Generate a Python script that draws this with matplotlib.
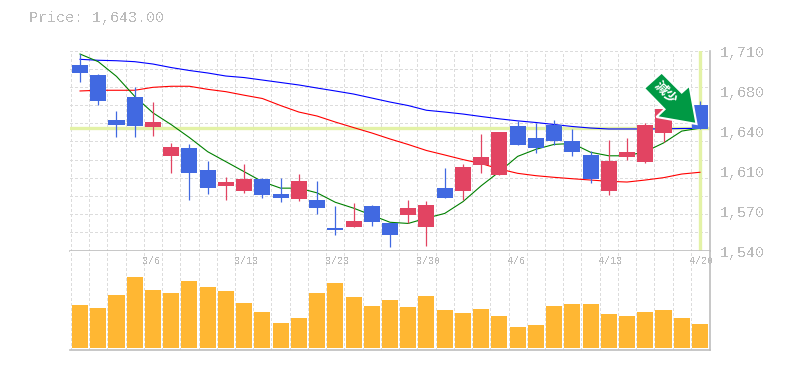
import numpy as np
import matplotlib
matplotlib.use('Agg')
import matplotlib.pyplot as plt
from matplotlib.patches import Polygon
from matplotlib.transforms import IdentityTransform

W, H = 785, 370

# daily OHLC, oldest first
opens = [1698, 1689, 1651, 1670.5, 1645, 1620.6, 1627, 1608.4, 1594.8, 1590.8, 1600.8, 1588,
         1584, 1583, 1559, 1560, 1577.8, 1563.4, 1570.2, 1560, 1593, 1590.8, 1612.7, 1604.2,
         1645.8, 1635.6, 1646.7, 1633, 1621.2, 1590.8, 1619.5, 1615.2, 1640, 1661, 1663.7]
closes = [1691, 1667, 1646.7, 1646, 1649, 1628, 1606, 1593.4, 1598.2, 1600.8, 1587.4, 1584.9,
          1599, 1576.4, 1557.7, 1565, 1564.5, 1553.2, 1576, 1578.7, 1584.6, 1611, 1619.5, 1640.7,
          1630, 1627.4, 1633.3, 1624, 1601, 1616, 1623.7, 1646.7, 1660, 1652.6, 1643]
highs = [1707, 1690, 1658.6, 1678.7, 1666, 1631.4, 1630.5, 1616, 1602.5, 1613.5, 1601.6, 1601.6,
         1605, 1599, 1577.8, 1580.4, 1578.7, 1563.4, 1582.9, 1582, 1610, 1613.5, 1639, 1640.7,
         1650, 1648.4, 1651, 1643.3, 1624.6, 1634, 1635.6, 1648.4, 1660, 1663.7, 1667]
lows = [1683.5, 1664, 1636.7, 1636.7, 1637.6, 1606, 1583, 1588.3, 1583, 1589.1, 1584.9, 1581.5,
        1582.3, 1571.3, 1553.4, 1560, 1561, 1543.2, 1563.4, 1544, 1584.6, 1583, 1606, 1604.2,
        1630, 1623.1, 1630, 1620.6, 1597.6, 1587.4, 1617, 1614.4, 1632.5, 1651, 1643]

ma_short = [1707, 1700.5, 1688, 1671, 1657, 1647, 1636, 1624, 1615.5, 1607, 1598.5, 1593,
            1593, 1589, 1581, 1576, 1570, 1564, 1563, 1567.5, 1571.5, 1581.5, 1595, 1607,
            1620, 1626, 1630.2, 1631, 1623.5, 1620.5, 1620.5, 1624, 1631.4, 1641.5, 1644]
ma_mid = [1675.6, 1676.2, 1676.2, 1676.2, 1678.7, 1679.6, 1679.6, 1677, 1675, 1672, 1669.2, 1663.2,
          1657.7, 1654.3, 1649.2, 1644.5, 1639.9, 1634.8, 1630.1, 1625, 1621.2, 1617.3, 1613.9, 1609.3,
          1605.6, 1603.6, 1602.2, 1601, 1599.9, 1598.8, 1598.2, 1599.9, 1601.9, 1605, 1606.5]
ma_long = [1702.5, 1701.7, 1701.3, 1700.5, 1698.5, 1695.5, 1693, 1690.9, 1688.3, 1687, 1684.9, 1682.8,
           1680.7, 1678.1, 1675.6, 1673, 1669.6, 1666.2, 1663.2, 1659.2, 1657.7, 1656, 1653.9, 1651.9,
           1650.2, 1648.8, 1647.1, 1645.4, 1644.1, 1643.3, 1643.3, 1643.3, 1643.4, 1643.7, 1643.8]

volumes = [43, 40, 53, 71, 58, 55, 67, 61, 57, 45, 36, 25, 30, 55, 65, 51, 42, 48,
           41, 52, 38, 35, 39, 32, 21, 23, 42, 44, 44, 34, 32, 36, 38, 30, 24]

date_idx = [4, 9, 14, 19, 24, 29, 34]
date_labels = ['3/6', '3/13', '3/23', '3/30', '4/6', '4/13', '4/20']

price_ticks = [1540, 1574, 1608, 1642, 1676, 1710]
price_labels = ['1,540', '1,570', '1,610', '1,640', '1,680', '1,710']

cross_x = 34
cross_y = 1643.8

# badge outline in pixels from the top left of the image
arrow_px = [(661.7, 72.5), (681.7, 92.5), (689.5, 85.5), (696.5, 124),
            (656.5, 117), (664.5, 109.3), (644, 88.3)]

UP = '#e24462'
DOWN = '#4169e1'
GRID = '#dcdcdc'
AXIS = '#bdbdbd'
TEXT = '#bbbbbb'
CROSS = '#e3f2a6'
VOL = '#ffb733'

plt.rcParams['font.family'] = ['Liberation Mono', 'DejaVu Sans Mono']
plt.rcParams['text.antialiased'] = False

fig = plt.figure(figsize=(W / 100, H / 100), dpi=100)
ax = fig.add_axes([70 / W, 1 - 250.5 / H, 640 / W, 200 / H])
vax = fig.add_axes([70 / W, 1 - 350 / H, 640 / W, 99.5 / H])

xs = np.arange(len(opens))
for a in (ax, vax):
  a.set_xlim(-0.55, 34.55)
  a.set_xticks(xs - 0.5)
  a.tick_params(length=0, labelbottom=False, labelleft=False)
  a.grid(axis='x', color=GRID, lw=1, ls=(0, (2, 2)), antialiased=False)
  a.set_axisbelow(True)
  for side in ('left', 'top'):
    a.spines[side].set_visible(False)
  for side in ('right', 'bottom'):
    a.spines[side].set_color(AXIS)
    a.spines[side].set_linewidth(1.2)

ax.set_ylim(1540, 1710)
ax.set_yticks(np.linspace(1540, 1710, 12))
ax.grid(axis='y', color=GRID, lw=1, ls=(0, (2, 2)), antialiased=False)

ax.axhline(cross_y, color=CROSS, lw=2.4, zorder=1.5)
ax.plot([cross_x, cross_x], [1541, 1710], color=CROSS, lw=2.4, zorder=1.5)

ax.plot(xs, ma_long, color='#0000ff', lw=0.8, zorder=2)
ax.plot(xs, ma_mid, color='#ff0000', lw=0.8, zorder=2)
ax.plot(xs, ma_short, color='#008000', lw=0.8, zorder=2)

for i in xs:
  color = UP if closes[i] >= opens[i] else DOWN
  ax.vlines(i, lows[i], highs[i], color=color, lw=0.9, zorder=3)
  ax.bar(i, abs(closes[i] - opens[i]), bottom=min(opens[i], closes[i]), width=0.88,
         color=color, lw=0, zorder=3)

vax.set_ylim(-2, 97.5)
vax.bar(xs, volumes, width=0.88, color=VOL, lw=0, zorder=3)

for v, label in zip(price_ticks, price_labels):
  ax.annotate(label, (1, v), xycoords=('axes fraction', 'data'), xytext=(10, -3),
              textcoords='offset pixels', ha='left', va='center', fontsize=10.8,
              color=TEXT, annotation_clip=False)

for i, label in zip(date_idx, date_labels):
  vax.annotate(label, (i - 0.5, 1), xycoords=('data', 'axes fraction'), xytext=(-1, -11),
               textcoords='offset pixels', ha='left', va='center', fontsize=7.2,
               color=TEXT, annotation_clip=False, zorder=5)

fig.text(29 / W, 1 - 18 / H, 'Price: 1,643.00', fontsize=10.8, color=TEXT, ha='left', va='center')

arrow_xy = [(x, H - y) for x, y in arrow_px]
fig.add_artist(Polygon(arrow_xy, closed=True, transform=IdentityTransform(), facecolor='#009944',
                       edgecolor='white', lw=1.5, joinstyle='miter', zorder=10))
fig.text(666 / W, 1 - 92.5 / H, '減少', family=['Noto Sans CJK JP', 'DejaVu Sans'], fontsize=9.5,
         fontweight='bold', color='white', rotation=-45, rotation_mode='anchor',
         ha='center', va='center', antialiased=True, zorder=11)

fig.savefig('out.png', dpi=100, facecolor='white')
